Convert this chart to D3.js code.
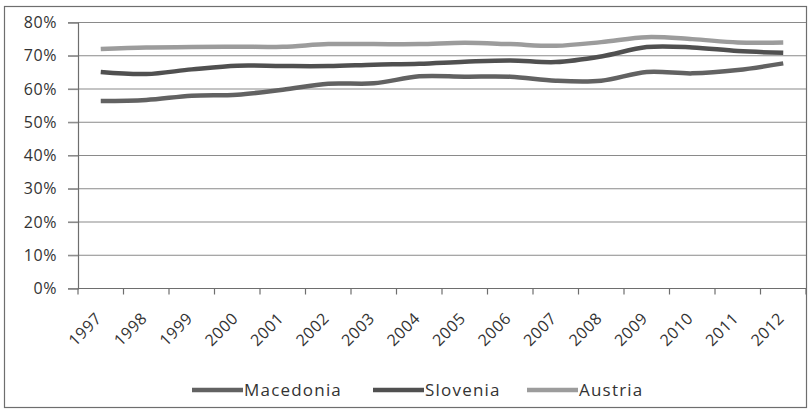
<!DOCTYPE html>
<html>
<head>
<meta charset="utf-8">
<script src="https://cdn.jsdelivr.net/npm/d3@7"></script>
<style>
  html, body { margin: 0; padding: 0; background: #fff; }
  svg { display: block; }
</style>
</head>
<body>
<svg id="chart" width="808" height="412"></svg>
<script>
// Employment rate by year, three countries
const years = ["1997","1998","1999","2000","2001","2002","2003","2004","2005","2006","2007","2008","2009","2010","2011","2012"];
const macedonia = [56.4, 56.7, 58.0, 58.3, 59.8, 61.6, 61.7, 63.8, 63.7, 63.7, 62.5, 62.5, 65.1, 64.7, 65.7, 67.7];
const slovenia  = [65.1, 64.5, 65.9, 67.0, 66.9, 66.9, 67.3, 67.6, 68.2, 68.6, 68.1, 69.8, 72.6, 72.5, 71.4, 70.9];
const austria   = [72.0, 72.5, 72.6, 72.7, 72.7, 73.5, 73.5, 73.5, 73.9, 73.5, 73.0, 74.1, 75.6, 75.0, 74.0, 74.0];
const yTicks = [0, 10, 20, 30, 40, 50, 60, 70, 80];
const seriesNames = ["Macedonia", "Slovenia", "Austria"];
const seriesColors = ["#626262", "#505050", "#9c9c9c"];

const series = seriesNames.map((name, i) => ({
  name,
  color: seriesColors[i],
  values: [macedonia, slovenia, austria][i]
}));

const svg = d3.select("#chart");
const font = "'Open Sans', 'DejaVu Sans', sans-serif";
const textColor = "#333";

// outer frame
svg.append("rect")
  .attr("x", 4.5).attr("y", 6.5)
  .attr("width", 802).attr("height", 401)
  .attr("fill", "#fff").attr("stroke", "#6e6e6e").attr("stroke-width", 1.2);

const plot = { left: 78, right: 806, top: 22.5, bottom: 288.5 };

const x = d3.scaleBand().domain(years).range([plot.left, plot.right]);
const y = d3.scaleLinear().domain([0, 80]).range([plot.bottom, plot.top]);

// horizontal gridlines
svg.append("g")
  .selectAll("line")
  .data(yTicks)
  .join("line")
  .attr("x1", plot.left - 10).attr("x2", plot.right)
  .attr("y1", d => y(d)).attr("y2", d => y(d))
  .attr("stroke", "#8a8a8a").attr("stroke-width", 1.2);

// y axis
const yAxis = svg.append("g")
  .attr("transform", `translate(${plot.left},0)`)
  .call(d3.axisLeft(y).tickValues(yTicks).tickFormat(d => d + "%").tickSize(10).tickPadding(11));
yAxis.select(".domain").attr("stroke", "#6e6e6e").attr("stroke-width", 1.2);
yAxis.selectAll(".tick line").attr("stroke", "#8a8a8a").attr("stroke-width", 1.2);
yAxis.selectAll("text")
  .attr("font-family", font).attr("font-size", 16).attr("letter-spacing", 0.6).attr("fill", textColor);

// x axis: ticks sit at band boundaries
const xAxisG = svg.append("g").attr("transform", `translate(0,${plot.bottom})`);
xAxisG.append("line")
  .attr("x1", plot.left).attr("x2", plot.right)
  .attr("stroke", "#6e6e6e").attr("stroke-width", 1.2);
const boundaries = years.map(d => x(d)).concat([x(years[years.length - 1]) + x.bandwidth()]);
xAxisG.selectAll("line.tick")
  .data(boundaries)
  .join("line")
  .attr("class", "tick")
  .attr("x1", d => d).attr("x2", d => d)
  .attr("y1", 0).attr("y2", 6)
  .attr("stroke", "#6e6e6e").attr("stroke-width", 1.2);
xAxisG.selectAll("text")
  .data(years)
  .join("text")
  .attr("transform", d => `translate(${x(d) + x.bandwidth() / 2 - 2},${27}) rotate(-45)`)
  .attr("text-anchor", "end")
  .attr("dy", "0.35em")
  .attr("font-family", font).attr("font-size", 16).attr("letter-spacing", 0.6).attr("fill", textColor)
  .text(d => d);

// smoothed series lines
const line = d3.line()
  .x((d, i) => x(years[i]) + x.bandwidth() / 2)
  .y(d => y(d))
  .curve(d3.curveCatmullRom.alpha(0.5));

svg.append("g")
  .selectAll("path")
  .data(series)
  .join("path")
  .attr("d", d => line(d.values))
  .attr("fill", "none")
  .attr("stroke", d => d.color)
  .attr("stroke-width", 4.5)
  .attr("stroke-linecap", "butt")
  .attr("stroke-linejoin", "round");

// legend
const legendX = [192, 373, 527];
const legend = svg.append("g")
  .selectAll("g")
  .data(series)
  .join("g")
  .attr("transform", (d, i) => `translate(${legendX[i]},390)`);
legend.append("line")
  .attr("x1", 0).attr("x2", 51)
  .attr("stroke", d => d.color).attr("stroke-width", 4.5);
legend.append("text")
  .attr("x", 52).attr("dy", "0.35em")
  .attr("font-family", font).attr("font-size", 17).attr("letter-spacing", 1.2).attr("fill", textColor)
  .text(d => d.name);
</script>
</body>
</html>
